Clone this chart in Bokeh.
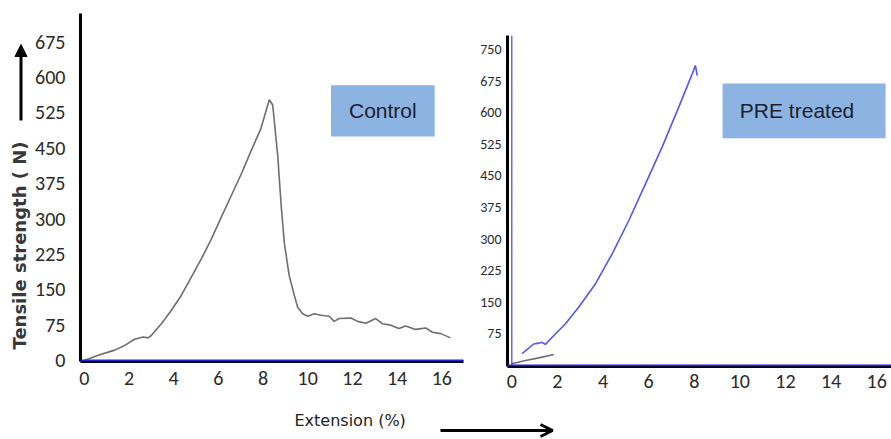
import numpy as np
from bokeh.plotting import figure
from bokeh.models import (Range1d, Label, Arrow, NormalHead, OpenHead,
                          BoxAnnotation, Span, FixedTicker)
from bokeh.layouts import row, column
from bokeh.embed import file_html
from bokeh.resources import INLINE

# Control specimen: extension (%) against tensile strength (N)
control_ext = [0.0, 0.62, 1.36, 1.81, 2.25, 2.63, 2.85, 3.0, 3.45, 3.89, 4.34,
               4.79, 5.23, 5.68, 6.12, 6.57, 7.02, 7.46, 7.91, 8.28, 8.43,
               8.66, 8.8, 8.95, 9.17, 9.4, 9.55, 9.77, 10.0, 10.29, 10.59,
               10.96, 11.18, 11.4, 11.93, 12.23, 12.6, 13.04, 13.34, 13.71,
               14.08, 14.38, 14.83, 15.28, 15.58, 15.95, 16.39]
control_force = [0, 11, 22, 32, 45, 50, 48, 53, 78, 106, 138,
                 177, 215, 257, 303, 349, 395, 444, 493, 553, 542,
                 433, 335, 250, 180, 138, 113, 99, 94, 99, 96,
                 94, 83, 89, 90, 83, 79, 89, 78, 75,
                 68, 73, 66, 69, 60, 57, 48]

# PRE treated specimen
pre_ext = [0.45, 0.96, 1.18, 1.33, 1.47, 1.77, 2.35, 2.93, 3.67, 4.4, 5.13,
           5.86, 6.59, 7.32, 7.91, 8.05, 8.13]
pre_force = [28, 51, 53, 55, 50, 67, 99, 138, 194, 265, 344,
             431, 518, 613, 692, 712, 688]

# short grey trace near the origin of the PRE treated panel
pre_grey_ext = [0.0, 0.6, 1.18, 1.84]
pre_grey_force = [4, 12, 18, 26]

ext_ticks = [0, 2, 4, 6, 8, 10, 12, 14, 16]
control_ticks = [0, 75, 150, 225, 300, 375, 450, 525, 600, 675]
pre_ticks = [75, 150, 225, 300, 375, 450, 525, 600, 675, 750]

NARROW = "Carlito, 'Liberation Sans Narrow', 'Liberation Sans', sans-serif"
ROW_H = 398


def style_axes(p, label_size, ystandoff, xstandoff, ylabel_size=None):
    p.grid.visible = False
    p.outline_line_color = None
    for ax in p.axis:
        ax.axis_line_color = "black"
        ax.axis_line_width = 3
        ax.major_tick_line_color = None
        ax.minor_tick_line_color = None
        ax.major_tick_out = 0
        ax.major_tick_in = 0
        ax.major_label_text_font = NARROW
        ax.major_label_text_color = "#2a2a2a"
    p.xaxis.major_label_text_font_size = label_size
    p.yaxis.major_label_text_font_size = ylabel_size or label_size
    p.yaxis.major_label_standoff = ystandoff
    p.xaxis.major_label_standoff = xstandoff


# strip holding the vertical axis title
p0 = figure(width=32, height=ROW_H, x_range=Range1d(0, 32), y_range=Range1d(0, ROW_H),
            x_axis_type=None, y_axis_type=None, min_border=0, title=None,
            frame_align=False, toolbar_location=None, output_backend="svg")
p0.grid.visible = False
p0.outline_line_color = None
p0.add_layout(Label(x=19, y=ROW_H - 245, text="Tensile strength ( N)", angle=np.pi / 2,
                    text_align="center", text_baseline="middle",
                    text_font="DejaVu Sans", text_font_size="18px",
                    text_font_style="bold", text_color="#383838"))
p0.add_layout(Arrow(end=NormalHead(size=12, fill_color="black", line_color="black"),
                    x_start=20.5, y_start=ROW_H - 120, x_end=20.5, y_end=ROW_H - 44,
                    line_width=3, line_color="black"))

# Control panel
p1 = figure(width=443, height=ROW_H, title=None,
            x_range=Range1d(-0.17, 16.97), y_range=Range1d(-2.1, 736),
            min_border_left=47, min_border_right=12, min_border_top=13,
            min_border_bottom=37, frame_align=False,
            toolbar_location=None, output_backend="svg")
p1.line(control_ext, control_force, line_color="#6e6e6e", line_width=1.6)
p1.xaxis.ticker = FixedTicker(ticks=ext_ticks)
p1.yaxis.ticker = FixedTicker(ticks=control_ticks)
style_axes(p1, "20px", 15, 10)
p1.add_layout(Span(location=0, dimension="width", line_color="#2020d8", line_width=2))
p1.add_layout(BoxAnnotation(left=11.04, right=15.68, bottom=475, top=584,
                            fill_color="#8db3e2", fill_alpha=1.0, line_color=None))
p1.add_layout(Label(x=13.36, y=529.5, text="Control", text_align="center",
                    text_baseline="middle", text_font="Liberation Sans",
                    text_font_size="21px", text_color="#1c2030"))

# PRE treated panel
p2 = figure(width=416, height=ROW_H, title=None,
            x_range=Range1d(-0.19, 16.65), y_range=Range1d(-2.4, 783),
            min_border_left=32, min_border_right=0, min_border_top=35,
            min_border_bottom=32, frame_align=False,
            toolbar_location=None, output_backend="svg")
p2.line(pre_grey_ext, pre_grey_force, line_color="#6e6e6e", line_width=1.6)
p2.line(pre_ext, pre_force, line_color="#5656f2", line_width=1.6)
p2.xaxis.ticker = FixedTicker(ticks=ext_ticks)
p2.yaxis.ticker = FixedTicker(ticks=pre_ticks)
style_axes(p2, "20px", 6, 8, ylabel_size="14px")
p2.add_layout(Span(location=0, dimension="width", line_color="#2020d8", line_width=2))
p2.add_layout(Span(location=0, dimension="height", line_color="#2020d8", line_width=1))
p2.add_layout(BoxAnnotation(left=9.24, right=16.39, bottom=539, top=669,
                            fill_color="#8db3e2", fill_alpha=1.0, line_color=None))
p2.add_layout(Label(x=10.0, y=606, text="PRE treated", text_align="left",
                    text_baseline="middle", text_font="Liberation Sans",
                    text_font_size="21px", text_color="#1c2030"))

# shared horizontal axis title with its arrow
p3 = figure(width=891, height=439 - ROW_H, x_range=Range1d(0, 891), title=None,
            y_range=Range1d(0, 439 - ROW_H), x_axis_type=None, y_axis_type=None,
            min_border=0, frame_align=False,
            toolbar_location=None, output_backend="svg")
p3.grid.visible = False
p3.outline_line_color = None
p3.add_layout(Label(x=294, y=19, text="Extension (%)", text_align="left",
                    text_baseline="middle", text_font="DejaVu Sans",
                    text_font_size="16px", text_color="#222222"))
p3.add_layout(Arrow(end=OpenHead(size=12, line_width=3, line_color="black"),
                    x_start=440, y_start=9, x_end=552, y_end=9,
                    line_width=3, line_color="black"))

layout = column(row(p0, p1, p2, spacing=0), p3, spacing=0)

with open("out.html", "w") as f:
    f.write(file_html(layout, INLINE))
